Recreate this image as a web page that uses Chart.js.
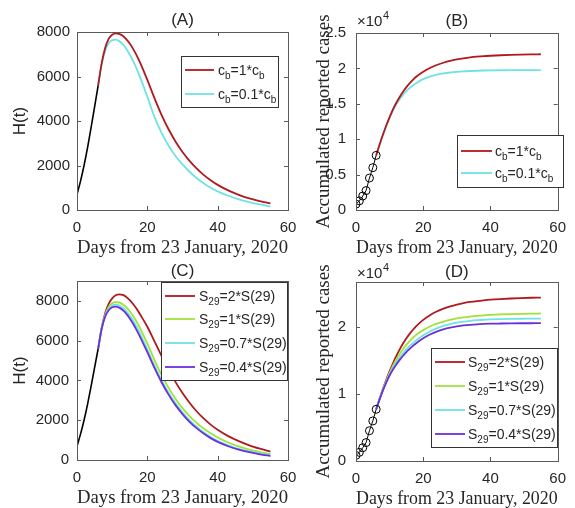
<!DOCTYPE html>
<html>
<head>
<meta charset="utf-8">
<script src="https://cdn.jsdelivr.net/npm/chart.js@4/dist/chart.umd.min.js"></script>
<style>
  html, body { margin: 0; padding: 0; background: #fff; }
  #wrap { position: relative; width: 575px; height: 508px; }
  #wrap canvas { position: absolute; left: 0; top: 0; }
</style>
</head>
<body>
<div id="wrap">
  <canvas id="cA" width="575" height="508"></canvas>
  <canvas id="cB" width="575" height="508"></canvas>
  <canvas id="cC" width="575" height="508"></canvas>
  <canvas id="cD" width="575" height="508"></canvas>
</div>
<script>
// ---------- data ----------
const X_TICKS = [0, 20, 40, 60];
const H_TICKS = [0, 2000, 4000, 6000, 8000];
const CUM_TICKS_B = [0, 5000, 10000, 15000, 20000, 25000];
const CUM_TICKS_D = [0, 10000, 20000];

// fitted period (days 0..6)
const DAYS_FIT = [0, 1, 2, 3, 4, 5, 6];
const H_FIT = [700, 1300, 2000, 2800, 3700, 4640, 5580];
const REPORTED = [830, 1287, 1975, 2744, 4515, 5974, 7711];

// projections (day 6 onward)
const DAYS = [6, 7, 8, 9, 10, 11, 12, 13, 14, 15, 16, 17, 18, 20, 22, 24, 26, 28, 30, 32, 34, 36, 38, 40, 43, 46, 49, 52, 55];

// H(t): baseline (c_b = 1*c_b, S29 = 1*S(29))
const H_BASE = [5580, 6580, 7280, 7690, 7880, 7940, 7920, 7830, 7680, 7480, 7230, 6940, 6600, 5850, 5040, 4290, 3640, 3080, 2610, 2210, 1870, 1580, 1340, 1130, 880, 680, 520, 400, 295];
const H_CB01 = [5580, 6540, 7150, 7500, 7640, 7655, 7590, 7450, 7250, 6990, 6680, 6330, 5940, 5090, 4200, 3480, 2900, 2430, 2050, 1720, 1440, 1200, 1000, 840, 640, 480, 355, 250, 160];
const H_S2 = [5580, 6630, 7380, 7850, 8130, 8280, 8330, 8300, 8200, 8040, 7830, 7590, 7300, 6700, 5980, 5250, 4560, 3930, 3370, 2880, 2450, 2090, 1780, 1520, 1200, 950, 740, 570, 420];
const H_S07 = [5580, 6600, 7240, 7600, 7770, 7810, 7770, 7660, 7490, 7260, 6990, 6680, 6330, 5560, 4760, 4030, 3400, 2860, 2400, 2000, 1670, 1390, 1160, 960, 740, 560, 430, 330, 255];
const H_S04 = [5580, 6580, 7200, 7530, 7680, 7710, 7660, 7540, 7360, 7120, 6840, 6520, 6170, 5420, 4640, 3920, 3300, 2760, 2310, 1920, 1600, 1330, 1100, 910, 690, 520, 390, 285, 200];

// accumulated reported cases
const CUM_BASE = [7711, 9220, 10620, 11930, 13130, 14220, 15150, 15970, 16700, 17350, 17920, 18420, 18850, 19520, 20060, 20480, 20800, 21060, 21260, 21420, 21550, 21650, 21730, 21790, 21860, 21910, 21950, 21980, 22000];
const CUM_CB01 = [7711, 9180, 10560, 11880, 13020, 14040, 14920, 15650, 16270, 16800, 17250, 17630, 17950, 18480, 18850, 19110, 19290, 19420, 19510, 19580, 19630, 19670, 19700, 19720, 19740, 19750, 19750, 19750, 19750];
const CUM_S2 = [7711, 9280, 10750, 12120, 13400, 14580, 15660, 16640, 17520, 18300, 19000, 19620, 20160, 21050, 21750, 22300, 22730, 23060, 23330, 23550, 23720, 23860, 23970, 24060, 24160, 24240, 24300, 24350, 24380];
const CUM_S07 = [7711, 9180, 10560, 11800, 12900, 13850, 14680, 15420, 16080, 16650, 17160, 17620, 18030, 18750, 19320, 19780, 20140, 20420, 20630, 20790, 20910, 21000, 21070, 21120, 21170, 21200, 21220, 21230, 21240];
const CUM_S04 = [7711, 9150, 10500, 11700, 12750, 13650, 14400, 15080, 15700, 16250, 16730, 17200, 17600, 18300, 18870, 19310, 19650, 19900, 20080, 20220, 20320, 20390, 20440, 20480, 20510, 20530, 20545, 20550, 20555];

// ---------- style ----------
const W = 575, H = 508;
const SANS = "'Liberation Sans', Arial, Helvetica, sans-serif";
const SERIF = "'Liberation Serif', 'Times New Roman', serif";
const TXT = "#262626";
const AXIS = "#5a5a5a";
const RED = "#b0191e", CYAN = "#6fe3e3", GREEN = "#9fe23a", PURPLE = "#6c2fdc", BLACK = "#000";
const X_TITLE_H = 49;
const TICK = 4;

const pts = (xs, ys) => xs.map((v, i) => ({ x: v, y: ys[i] }));
const curve = (label, xs, ys, color, order) => ({
  label, data: pts(xs, ys), borderColor: color, backgroundColor: color,
  borderWidth: 1.8, pointRadius: 0, tension: 0.4, cubicInterpolationMode: "monotone", order,
});
const fitLine = (ys) => ({
  data: pts(DAYS_FIT, ys), borderColor: BLACK, borderWidth: 1.6, pointRadius: 0,
  tension: 0.4, cubicInterpolationMode: "monotone", order: 0,
});
const circles = () => ({
  data: pts(DAYS_FIT, REPORTED), borderColor: BLACK, borderWidth: 1, pointRadius: 4,
  pointBorderColor: BLACK, pointBackgroundColor: "rgba(0,0,0,0)", pointBorderWidth: 1, order: 0,
});

// draw label with _{sub} markup
function richText(ctx, text, x, y) {
  const parts = text.split(/(_\{[^}]*\})/).filter(Boolean);
  for (const p of parts) {
    if (p.startsWith("_{")) {
      const s = p.slice(2, -1);
      ctx.font = `10px ${SANS}`;
      ctx.fillText(s, x, y + 4);
      x += ctx.measureText(s).width;
    } else {
      ctx.font = `14px ${SANS}`;
      ctx.fillText(p, x, y);
      x += ctx.measureText(p).width;
    }
  }
}

const panelDecor = {
  id: "panelDecor",
  afterDraw(chart, args, o) {
    const { ctx, chartArea: a, scales: { x, y } } = chart;
    ctx.save();
    ctx.strokeStyle = AXIS;
    ctx.lineWidth = 1;
    ctx.beginPath();
    for (const t of x.ticks) {
      const px = Math.round(x.getPixelForValue(t.value)) + 0.5;
      ctx.moveTo(px, a.bottom); ctx.lineTo(px, a.bottom - TICK);
      ctx.moveTo(px, a.top); ctx.lineTo(px, a.top + TICK);
    }
    for (const t of y.ticks) {
      const py = Math.round(y.getPixelForValue(t.value)) + 0.5;
      ctx.moveTo(a.left, py); ctx.lineTo(a.left + TICK, py);
      ctx.moveTo(a.right, py); ctx.lineTo(a.right - TICK, py);
    }
    ctx.stroke();
    ctx.strokeRect(Math.round(a.left) + 0.5, Math.round(a.top) + 0.5, Math.round(a.width), Math.round(a.height));

    // panel letter
    ctx.fillStyle = TXT;
    ctx.font = `17px ${SANS}`;
    ctx.textAlign = "center";
    ctx.textBaseline = "alphabetic";
    ctx.fillText(o.letter, (a.left + a.right) / 2, a.top - o.letterGap);

    // exponent
    if (o.expo) {
      ctx.textAlign = "left";
      ctx.font = `15px ${SANS}`;
      const bx = a.left + 1, by = a.top - o.expo;
      ctx.fillText("\u00d710", bx, by);
      const w = ctx.measureText("\u00d710").width;
      ctx.font = `11px ${SANS}`;
      ctx.fillText("4", bx + w + 0.5, by - 7);
    }

    // legend
    const L = o.legend;
    ctx.fillStyle = "#fff";
    ctx.fillRect(L.x, L.y, L.w, L.h);
    ctx.strokeStyle = "#333";
    ctx.strokeRect(L.x + 0.5, L.y + 0.5, L.w, L.h);
    const items = chart.data.datasets.filter((d) => d.label);
    items.forEach((d, i) => {
      const ry = L.rows[i];
      ctx.strokeStyle = d.borderColor;
      ctx.lineWidth = 1.8;
      ctx.beginPath();
      ctx.moveTo(L.line[0], ry); ctx.lineTo(L.line[1], ry);
      ctx.stroke();
      ctx.fillStyle = TXT;
      ctx.textAlign = "left";
      ctx.textBaseline = "alphabetic";
      richText(ctx, d.label, L.textX, ry + 5);
    });
    ctx.restore();
  },
};

function panel(id, cfg) {
  const yLh = cfg.yFont.size * 1.2;
  const padLeft = cfg.yTitleX - yLh / 2;
  const a = cfg.area;
  return new Chart(document.getElementById(id), {
    type: "line",
    data: { datasets: cfg.datasets },
    options: {
      responsive: false,
      animation: false,
      events: [],
      layout: { padding: { left: padLeft, top: a.t, right: W - a.r, bottom: H - a.b - X_TITLE_H } },
      plugins: {
        legend: { display: false },
        tooltip: { enabled: false },
        title: { display: false },
        panelDecor: { letter: cfg.letter, letterGap: cfg.letterGap, expo: cfg.expo, legend: cfg.legend },
      },
      scales: {
        x: {
          type: "linear", min: 0, max: 60,
          afterBuildTicks: (s) => { s.ticks = X_TICKS.map((v) => ({ value: v })); },
          afterFit: (s) => { s.height = X_TITLE_H; },
          grid: { display: false, drawTicks: false },
          border: { display: false },
          ticks: { font: { family: SANS, size: 15 }, color: TXT, padding: 9, maxRotation: 0, autoSkip: false, callback: (v) => String(v) },
          title: { display: true, text: "Days from 23 January, 2020", font: { family: SERIF, size: 19 }, color: TXT, padding: 0 },
        },
        y: {
          type: "linear", min: 0, max: cfg.yMax,
          afterBuildTicks: (s) => { s.ticks = cfg.yTicks.map((v) => ({ value: v })); },
          afterFit: (s) => { s.width = a.l - padLeft; },
          grid: { display: false, drawTicks: false },
          border: { display: false },
          ticks: { font: { family: SANS, size: 15 }, color: TXT, padding: cfg.yPad, autoSkip: false, callback: cfg.yFmt },
          title: { display: true, text: cfg.yTitle, font: cfg.yFont, color: TXT, padding: 0 },
        },
      },
    },
    plugins: [panelDecor],
  });
}

const hFmt = (v) => String(v);
const cumFmt = (v) => String(v / 10000);

panel("cA", {
  area: { l: 77, t: 32, r: 288, b: 210 },
  yTitle: "H(t)", yFont: { family: SANS, size: 17 }, yTitleX: 20.8, yPad: 7,
  yMax: 8000, yTicks: H_TICKS, yFmt: hFmt,
  letter: "(A)", letterGap: 7,
  legend: { x: 181, y: 56, w: 97, h: 51, rows: [70, 94], line: [185, 214], textX: 218 },
  datasets: [
    fitLine(H_FIT),
    curve("c_{b}=1*c_{b}", DAYS, H_BASE, RED, 1),
    curve("c_{b}=0.1*c_{b}", DAYS, H_CB01, CYAN, 2),
  ],
});

panel("cB", {
  area: { l: 356, t: 33, r: 567, b: 210 },
  yTitle: "Accumulated reported cases", yFont: { family: SERIF, size: 19 }, yTitleX: 324, yPad: 10,
  yMax: 25000, yTicks: CUM_TICKS_B, yFmt: cumFmt,
  letter: "(B)", letterGap: 7.5, expo: 7,
  legend: { x: 457, y: 135, w: 106, h: 52, rows: [151, 173], line: [461, 492], textX: 495 },
  datasets: [
    circles(),
    curve("c_{b}=1*c_{b}", DAYS, CUM_BASE, RED, 1),
    curve("c_{b}=0.1*c_{b}", DAYS, CUM_CB01, CYAN, 2),
  ],
});

panel("cC", {
  area: { l: 77, t: 281, r: 288, b: 460 },
  yTitle: "H(t)", yFont: { family: SANS, size: 17 }, yTitleX: 20.8, yPad: 8,
  yMax: 9000, yTicks: H_TICKS, yFmt: hFmt,
  letter: "(C)", letterGap: 5,
  legend: { x: 161, y: 282, w: 126, h: 98, rows: [296, 319, 343, 367], line: [165, 195], textX: 199 },
  datasets: [
    fitLine(H_FIT),
    curve("S_{29}=2*S(29)", DAYS, H_S2, RED, 4),
    curve("S_{29}=1*S(29)", DAYS, H_BASE, GREEN, 3),
    curve("S_{29}=0.7*S(29)", DAYS, H_S07, CYAN, 2),
    curve("S_{29}=0.4*S(29)", DAYS, H_S04, PURPLE, 1),
  ],
});

panel("cD", {
  area: { l: 356, t: 282, r: 567, b: 461 },
  yTitle: "Accumulated reported cases", yFont: { family: SERIF, size: 19 }, yTitleX: 324, yPad: 10,
  yMax: 26700, yTicks: CUM_TICKS_D, yFmt: cumFmt,
  letter: "(D)", letterGap: 5, expo: 4,
  legend: { x: 431, y: 348, w: 126, h: 99, rows: [362, 386, 410, 434], line: [435, 465], textX: 468 },
  datasets: [
    circles(),
    curve("S_{29}=2*S(29)", DAYS, CUM_S2, RED, 4),
    curve("S_{29}=1*S(29)", DAYS, CUM_BASE, GREEN, 3),
    curve("S_{29}=0.7*S(29)", DAYS, CUM_S07, CYAN, 2),
    curve("S_{29}=0.4*S(29)", DAYS, CUM_S04, PURPLE, 1),
  ],
});
</script>
</body>
</html>
